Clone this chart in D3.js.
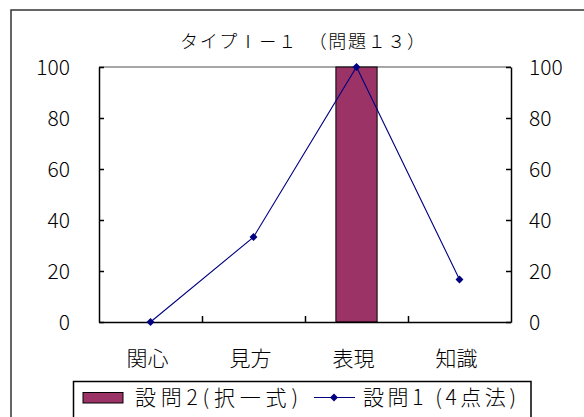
<!DOCTYPE html>
<html><head><meta charset="utf-8">
<script src="https://cdn.jsdelivr.net/npm/d3@7"></script>
<style>
html,body{margin:0;padding:0;background:#fff;}
svg{display:block;}
text{font-family:"Noto Sans CJK JP","Noto Sans",sans-serif;fill:#000;font-weight:300;}
</style></head>
<body>
<script>
const title = "タイプⅠ－１　（問題１３）";
const categories = ["関心", "見方", "表現", "知識"];
const barName = "設問2(択一式)";
const barValues = [0, 0, 100, 0];
const lineName = "設問1 (4点法)";
const lineValues = [0, 33.3, 100, 16.7];
const yTicks = [0, 20, 40, 60, 80, 100];

(function () {
const W = 584, H = 417;
const svg = d3.select("body").append("svg").attr("width", W).attr("height", H);

// chart area border (clipped right/bottom)
svg.append("rect").attr("x", 11).attr("y", 10).attr("width", 640).attr("height", 460)
  .attr("fill", "#fff").attr("stroke", "#333").attr("stroke-width", 1.5);

const pL = 99, pR = 511, pT = 67, pB = 322;
const x = d3.scaleBand().domain(categories).range([pL, pR]).paddingInner(0).paddingOuter(0);
const xEdge = d3.scaleLinear().domain([0, categories.length]).range([pL, pR]);
const y = d3.scaleLinear().domain([0, 100]).range([pB, pT]);

// title
svg.append("text").attr("x", 180).attr("y", 48).attr("font-size", 18)
  .attr("textLength", 245).attr("lengthAdjust", "spacing").text(title);

// gridline at max
svg.append("line").attr("x1", pL).attr("x2", pR).attr("y1", y(100)).attr("y2", y(100))
  .attr("stroke", "#888").attr("stroke-width", 1.5);

// bars
const bw = x.bandwidth() * 0.4;
svg.selectAll("rect.bar").data(categories.map((c, i) => ({c, v: barValues[i]})).filter(d => d.v > 0))
  .join("rect").attr("class", "bar")
  .attr("x", d => x(d.c) + x.bandwidth() / 2 - bw / 2)
  .attr("y", d => y(d.v))
  .attr("width", bw)
  .attr("height", d => y(0) - y(d.v))
  .attr("fill", "#9c3366").attr("stroke", "#000").attr("stroke-width", 1);

// axes
const axL = svg.append("g").attr("transform", `translate(${pL},0)`)
  .call(d3.axisLeft(y).tickValues(yTicks).tickSizeInner(-5).tickSizeOuter(0).tickPadding(29));
const axR = svg.append("g").attr("transform", `translate(${pR},0)`)
  .call(d3.axisRight(y).tickValues(yTicks).tickSizeInner(-5).tickSizeOuter(0).tickPadding(18));
const axB = svg.append("g").attr("transform", `translate(0,${pB})`)
  .call(d3.axisBottom(xEdge).tickValues([1, 2, 3]).tickSizeInner(-6).tickSizeOuter(0).tickFormat(""));
const axBL = svg.append("g").attr("transform", `translate(0,${pB})`)
  .call(d3.axisBottom(x).tickSize(0));
axBL.select(".domain").remove();
axBL.selectAll("text").attr("dy", null).attr("y", 44).attr("x", -3).attr("font-size", 21);

[axL, axR, axB].forEach(g => {
  g.select(".domain").attr("stroke", "#000").attr("stroke-width", 1.5);
  g.selectAll(".tick line").attr("stroke", "#000").attr("stroke-width", 1.5);
});
[axL, axR].forEach(g => g.selectAll("text").attr("font-size", 21).attr("dy", "0.36em"));
svg.selectAll(".tick text").attr("font-family", "\"Noto Sans CJK JP\",sans-serif").attr("fill", "#000");

// line series
const pts = categories.map((c, i) => [x(c) + x.bandwidth() / 2, y(lineValues[i])]);
svg.append("path").attr("d", d3.line()(pts)).attr("fill", "none").attr("stroke", "#000080").attr("stroke-width", 1.1);
const diamond = d3.symbol().type(d3.symbolDiamond2).size(40);
svg.selectAll("path.mk").data(pts).join("path").attr("class", "mk")
  .attr("transform", d => `translate(${d[0]},${d[1]})`)
  .attr("d", diamond).attr("fill", "#000080");

// legend
svg.append("rect").attr("x", 73.5).attr("y", 381.5).attr("width", 457.5).attr("height", 45)
  .attr("fill", "#fff").attr("stroke", "#000").attr("stroke-width", 1.5);
svg.append("rect").attr("x", 83).attr("y", 392.5).attr("width", 40).attr("height", 10.5)
  .attr("fill", "#9c3366").attr("stroke", "#000").attr("stroke-width", 1);
svg.append("text").attr("x", 135).attr("y", 405).attr("font-size", 21)
  .attr("textLength", 163).attr("lengthAdjust", "spacing").text(barName);
svg.append("line").attr("x1", 314).attr("x2", 355).attr("y1", 397.5).attr("y2", 397.5)
  .attr("stroke", "#000080").attr("stroke-width", 1.1);
svg.append("path").attr("transform", "translate(334,397.5)").attr("d", diamond).attr("fill", "#000080");
svg.append("text").attr("x", 363).attr("y", 405).attr("font-size", 21)
  .attr("textLength", 153).attr("lengthAdjust", "spacing").text(lineName);
})();
</script>
</body></html>
